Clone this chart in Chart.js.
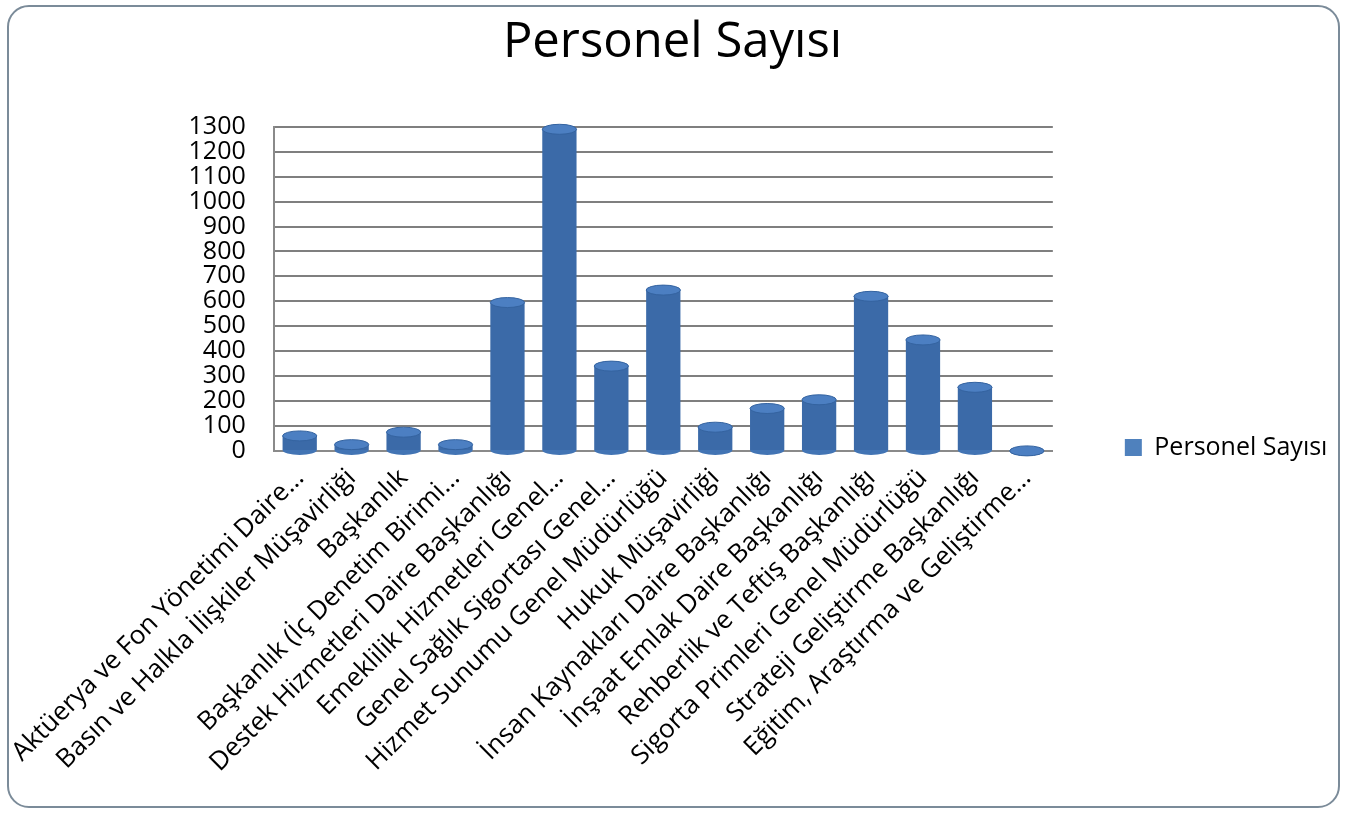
<!DOCTYPE html>
<html>
<head>
<meta charset="utf-8">
<script src="https://cdn.jsdelivr.net/npm/chart.js@4"></script>
<style>
html, body { margin: 0; padding: 0; background: #fff; }
#frame {
    position: absolute; left: 7px; top: 5px;
    width: 1329px; height: 799px;
    border: 2px solid #7b8b99; border-radius: 22px;
    overflow: hidden; background: #fff;
}
canvas { display: block; }
</style>
</head>
<body>
<div id="frame"><canvas id="myChart" width="1329" height="799"></canvas></div>
<script>
const categories = [
    'Aktüerya ve Fon Yönetimi Daire…',
    'Basın ve Halkla İlişkiler Müşavirliği',
    'Başkanlık',
    'Başkanlık (İç Denetim Birimi…',
    'Destek Hizmetleri Daire Başkanlığı',
    'Emeklilik Hizmetleri Genel…',
    'Genel Sağlık Sigortası Genel…',
    'Hizmet Sunumu Genel Müdürlüğü',
    'Hukuk Müşavirliği',
    'İnsan Kaynakları Daire Başkanlığı',
    'İnşaat Emlak Daire Başkanlığı',
    'Rehberlik ve Teftiş Başkanlığı',
    'Sigorta Primleri Genel Müdürlüğü',
    'Strateji Geliştirme Başkanlığı',
    'Eğitim, Araştırma ve Geliştirme…'
];
const personelSayisi = [60, 25, 75, 25, 595, 1290, 340, 645, 95, 170, 205, 620, 445, 255, 0];
const yTicks = [0, 100, 200, 300, 400, 500, 600, 700, 800, 900, 1000, 1100, 1200, 1300];

const ctx = document.getElementById('myChart');

Chart.defaults.font.family = '"Open Sans", sans-serif';
Chart.defaults.color = '#000';

// cylinder-ish shading on each bar, plus a cap on top and bottom
const cylinderShade = {
    id: 'cylinderShade',
    beforeDatasetsDraw(chart) {
        const c = chart.ctx;
        chart.getDatasetMeta(0).data.forEach(bar => {
            const left = bar.x - bar.width / 2;
            const g = c.createLinearGradient(left, 0, left + bar.width, 0);
            g.addColorStop(0, '#3b6aa8');
            g.addColorStop(0.3, '#5f93d6');
            g.addColorStop(0.6, '#568ace');
            g.addColorStop(1, '#3666a2');
            bar.options.backgroundColor = g;
        });
    },
    afterDatasetsDraw(chart) {
        const c = chart.ctx;
        c.save();
        chart.getDatasetMeta(0).data.forEach(bar => {
            const r = bar.width / 2;
            c.beginPath();
            c.ellipse(bar.x, bar.base, r, 5, 0, 0, Math.PI);
            c.fillStyle = '#4274b4';
            c.fill();
            c.beginPath();
            c.ellipse(bar.x, bar.y, r, 5, 0, 0, Math.PI * 2);
            c.fillStyle = '#4c7fc2';
            c.fill();
            c.strokeStyle = '#3463a0';
            c.lineWidth = 1;
            c.stroke();
        });
        c.restore();
    }
};

// legend sits level with the floor of the plot
const legendDown = {
    id: 'legendDown',
    afterLayout(chart) {
        chart.legend.top += 19;
        chart.legend.bottom += 19;
    }
};

new Chart(ctx, {
    type: 'bar',
    data: {
        labels: categories,
        datasets: [{
            label: 'Personel Sayısı',
            data: personelSayisi,
            backgroundColor: '#4f81bd',
            borderWidth: 0,
            barPercentage: 0.66,
            categoryPercentage: 1
        }]
    },
    options: {
        responsive: false,
        animation: false,
        layout: {
            padding: { left: 0, right: 2, top: 0, bottom: 24 }
        },
        scales: {
            x: {
                grid: { display: false },
                border: { color: '#8a8a8a', width: 2 },
                ticks: {
                    minRotation: 45,
                    maxRotation: 45,
                    autoSkip: false,
                    padding: 4,
                    font: { size: 26 }
                }
            },
            y: {
                min: 0,
                max: 1300,
                afterBuildTicks: (axis) => {
                    axis.ticks = yTicks.map(v => ({ value: v }));
                },
                grid: { color: '#7f7f7f', lineWidth: 2, tickLength: 0 },
                border: { color: '#8a8a8a', width: 2 },
                ticks: {
                    autoSkip: false,
                    padding: 28,
                    font: { size: 25 },
                    callback: (v) => String(v)
                }
            },
            // empty spacer between plot and legend
            gap: {
                type: 'linear',
                position: 'right',
                grid: { display: false },
                border: { display: false },
                ticks: { display: false },
                afterFit: (scale) => { scale.width = 62; }
            }
        },
        plugins: {
            title: {
                display: true,
                text: 'Personel Sayısı',
                font: { size: 49, weight: 'normal' },
                color: '#000',
                padding: { top: 7, bottom: 54 }
            },
            legend: {
                position: 'right',
                align: 'end',
                fullSize: false,
                labels: {
                    boxWidth: 17,
                    boxHeight: 17,
                    font: { size: 25 },
                    padding: 10
                }
            },
            tooltip: { enabled: false }
        }
    },
    plugins: [cylinderShade, legendDown]
});
</script>
</body>
</html>
